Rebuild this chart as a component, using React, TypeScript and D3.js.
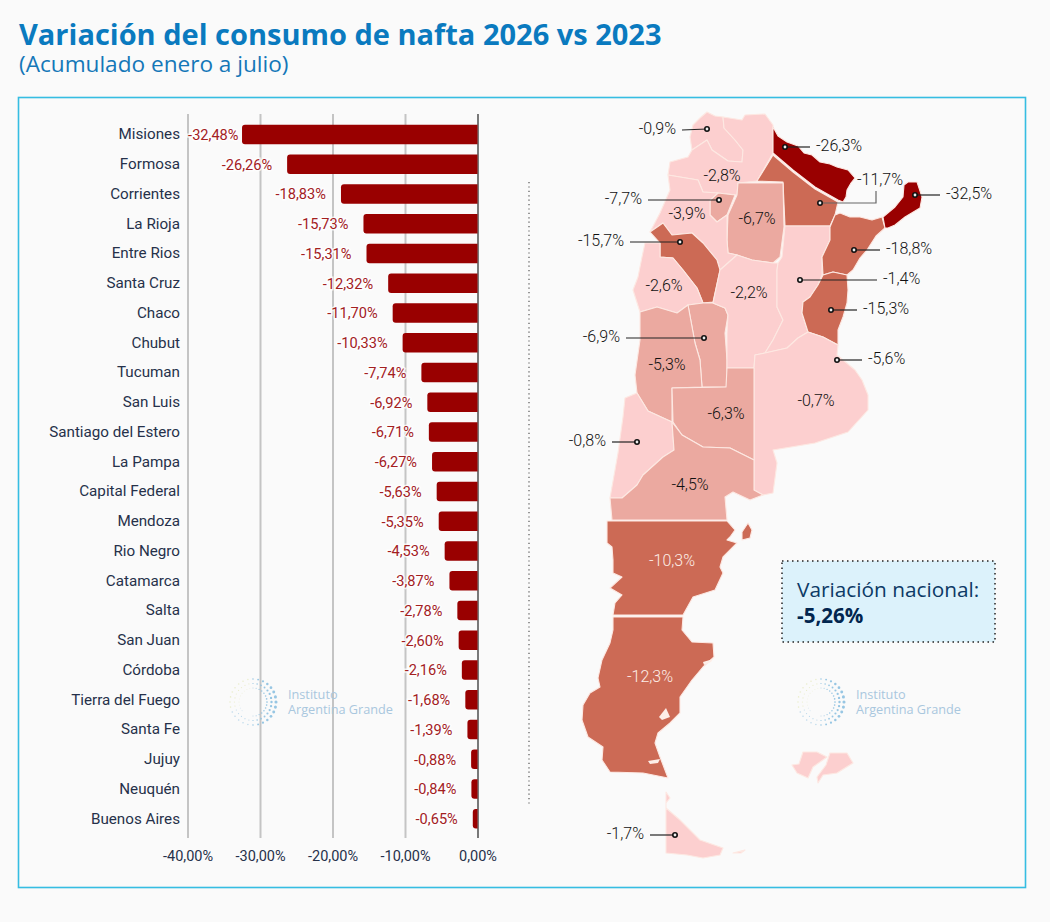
import React, { useRef, useEffect } from 'react';
import * as d3 from 'd3';

const provinces = ['Misiones', 'Formosa', 'Corrientes', 'La Rioja', 'Entre Rios', 'Santa Cruz', 'Chaco', 'Chubut', 'Tucuman', 'San Luis', 'Santiago del Estero', 'La Pampa', 'Capital Federal', 'Mendoza', 'Rio Negro', 'Catamarca', 'Salta', 'San Juan', 'Córdoba', 'Tierra del Fuego', 'Santa Fe', 'Jujuy', 'Neuquén', 'Buenos Aires'];
const variation = [-32.48, -26.26, -18.83, -15.73, -15.31, -12.32, -11.7, -10.33, -7.74, -6.92, -6.71, -6.27, -5.63, -5.35, -4.53, -3.87, -2.78, -2.6, -2.16, -1.68, -1.39, -0.88, -0.84, -0.65];
const xTicks = [-40, -30, -20, -10, 0];

// province outlines, traced by hand in map units
const outlines: [string, number, number[][][]][] = [
  ['Jujuy', 0.9, [[[693, 125], [700, 118], [707, 112], [715, 116], [723, 117], [724, 128], [735, 140], [743, 150], [742, 162], [728, 161], [712, 150], [707, 140], [692, 150], [690, 137]]]],
  ['Salta', 2.8, [[[723, 117], [742, 120], [745, 115], [765, 114], [773, 125], [773, 153], [757, 181], [738, 183], [737, 195], [718, 193], [703, 192], [698, 180], [668, 175], [670, 162], [688, 157], [692, 150], [707, 140], [712, 150], [728, 161], [742, 162], [743, 150], [735, 140], [724, 128]]]],
  ['Formosa', 26.3, [[[773, 127], [778, 136], [787, 142], [798, 146], [804, 153], [812, 155], [820, 162], [830, 164], [837, 167], [848, 170], [855, 178], [851, 183], [847, 190], [846, 197], [843, 202], [838, 200], [815, 187], [793, 170], [773, 153]]]],
  ['Chaco', 11.7, [[[757, 181], [773, 155], [793, 172], [815, 189], [838, 202], [835, 215], [830, 226], [785, 226], [783, 182]]]],
  ['Santiago del Estero', 6.7, [[[738, 183], [783, 183], [784, 227], [780, 257], [773, 263], [752, 260], [737, 255], [728, 253], [727, 240], [728, 215], [737, 195]]]],
  ['Tucuman', 7.7, [[[710, 200], [718, 193], [735, 195], [727, 215], [717, 222], [710, 215]]]],
  ['Catamarca', 3.9, [[[668, 175], [698, 180], [703, 192], [718, 193], [710, 200], [710, 215], [717, 222], [727, 215], [727, 240], [728, 253], [737, 255], [720, 270], [717, 260], [703, 243], [692, 233], [672, 235], [663, 223], [650, 232], [660, 213], [670, 190]]]],
  ['La Rioja', 15.7, [[[650, 232], [663, 223], [672, 235], [692, 233], [703, 243], [717, 260], [720, 270], [713, 302], [703, 303], [697, 288], [683, 270], [673, 258], [660, 257], [660, 243]]]],
  ['San Juan', 2.6, [[[645, 243], [660, 243], [660, 257], [673, 258], [683, 270], [697, 288], [703, 303], [688, 305], [677, 313], [657, 307], [640, 312], [633, 290], [638, 277], [642, 257]]]],
  ['San Luis', 6.9, [[[688, 305], [703, 303], [713, 303], [725, 308], [728, 315], [725, 333], [727, 360], [727, 387], [702, 387], [700, 360], [695, 343]]]],
  ['Mendoza', 5.3, [[[640, 312], [657, 307], [677, 313], [688, 305], [695, 343], [700, 360], [702, 387], [672, 388], [672, 422], [648, 411], [637, 393], [635, 375], [640, 340]]]],
  ['Córdoba', 2.2, [[[737, 255], [752, 260], [773, 263], [778, 263], [777, 270], [777, 307], [783, 320], [773, 340], [765, 353], [755, 355], [754, 368], [727, 368], [727, 333], [728, 315], [725, 308], [713, 303], [720, 270]]]],
  ['Santa Fe', 1.4, [[[785, 226], [830, 226], [830, 240], [822, 257], [822, 275], [818, 285], [810, 297], [803, 302], [802, 313], [808, 332], [798, 338], [787, 348], [765, 353], [773, 340], [783, 320], [777, 307], [777, 270], [778, 263], [782, 257]]]],
  ['Corrientes', 18.8, [[[840, 213], [850, 217], [860, 217], [872, 220], [882, 217], [885, 228], [876, 236], [867, 250], [860, 258], [853, 270], [847, 275], [833, 272], [823, 275], [822, 257], [830, 240], [830, 227], [835, 215]]]],
  ['Misiones', 32.5, [[[885, 228], [883, 217], [895, 207], [903, 197], [904, 185], [908, 182], [917, 182], [922, 197], [920, 208], [905, 217], [895, 225], [888, 228]]]],
  ['Entre Rios', 15.3, [[[823, 275], [833, 272], [847, 275], [848, 290], [847, 303], [843, 317], [838, 330], [838, 345], [823, 337], [808, 332], [802, 313], [803, 302], [810, 297], [818, 285]]]],
  ['Buenos Aires', 0.7, [[[755, 355], [765, 353], [787, 348], [798, 338], [808, 332], [823, 337], [838, 345], [837, 355], [855, 370], [862, 380], [868, 395], [868, 410], [848, 432], [815, 443], [785, 448], [773, 450], [777, 463], [773, 493], [763, 495], [754, 490], [754, 368]]]],
  ['La Pampa', 6.3, [[[672, 388], [726, 387], [727, 368], [754, 368], [754, 460], [730, 448], [703, 447], [682, 435], [673, 422]]]],
  ['Neuquén', 0.8, [[[637, 393], [648, 411], [672, 422], [674, 450], [663, 457], [643, 475], [637, 485], [622, 498], [610, 498], [615, 470], [618, 453], [623, 417], [625, 398]]]],
  ['Rio Negro', 4.5, [[[674, 450], [672, 422], [682, 435], [703, 447], [730, 448], [754, 460], [754, 490], [763, 495], [750, 500], [733, 492], [725, 497], [727, 520], [612, 520], [610, 498], [622, 498], [637, 485], [643, 475], [663, 457]]]],
  ['Chubut', 10.3, [[[607, 521], [727, 521], [735, 530], [730, 537], [727, 540], [737, 543], [723, 557], [720, 567], [723, 573], [715, 590], [693, 597], [683, 615], [613, 615], [615, 603], [622, 595], [610, 588], [622, 577], [613, 573], [613, 560], [612, 547], [607, 543]], [[742, 532], [748, 523], [752, 530], [750, 538], [742, 540]]]],
  ['Santa Cruz', 12.3, [[[613, 617], [683, 617], [682, 630], [692, 642], [713, 643], [714, 657], [703, 667], [692, 680], [680, 697], [680, 713], [670, 723], [658, 733], [655, 743], [660, 757], [668, 778], [643, 773], [610, 772], [602, 760], [603, 747], [588, 737], [582, 720], [583, 705], [590, 693], [600, 687], [598, 678], [602, 660], [610, 643], [613, 630]]]],
  ['Tierra del Fuego', 1.7, [[[666, 792], [670, 798], [666, 803], [666, 808], [680, 820], [700, 840], [723, 848], [720, 855], [703, 858], [687, 855], [666, 853]], [[733, 853], [745, 850], [741, 853]], [[792, 765], [799, 764], [803, 752], [817, 752], [827, 757], [813, 767], [808, 778], [797, 773]], [[830, 753], [847, 753], [853, 763], [837, 773], [823, 775], [818, 783], [817, 777], [826, 765]]]],
];

// lakes and inlets in Santa Cruz
const lakes = [
  [[703, 662], [713, 659], [711, 662], [704, 665]],
  [[659, 717], [666, 708], [670, 717], [662, 720]],
  [[648, 761], [660, 759], [658, 763], [650, 764]],
];

// label, dot, line end, elbow
const callouts: [string, number[], number[], number[] | null, string][] = [
  ['-0,9%', [707, 129], [682, 130], null, 'end'],
  ['-26,3%', [785, 147], [810, 147], null, 'start'],
  ['-11,7%', [820, 203], [876, 191], [876, 203], 'middle'],
  ['-32,5%', [915, 195], [940, 195], null, 'start'],
  ['-7,7%', [719, 200], [648, 200], null, 'end'],
  ['-15,7%', [680, 242], [630, 242], null, 'end'],
  ['-18,8%', [854, 250], [880, 250], null, 'start'],
  ['-1,4%', [800, 280], [877, 280], null, 'start'],
  ['-15,3%', [831, 310], [857, 310], null, 'start'],
  ['-6,9%', [704, 338], [626, 338], null, 'end'],
  ['-5,6%', [837, 360], [862, 360], null, 'start'],
  ['-0,8%', [637, 442], [612, 442], null, 'end'],
  ['-1,7%', [675, 835], [650, 835], null, 'end'],
];

const inlineLabels: [string, number[], string][] = [
  ['-2,8%', [722, 176], '#111'],
  ['-3,9%', [687, 214], '#111'],
  ['-6,7%', [757, 219], '#111'],
  ['-2,6%', [664, 286], '#111'],
  ['-2,2%', [749, 293], '#111'],
  ['-5,3%', [667, 365], '#111'],
  ['-6,3%', [726, 414], '#111'],
  ['-0,7%', [816, 401], '#111'],
  ['-4,5%', [690, 485], '#111'],
  ['-10,3%', [672, 561], '#fdeee8'],
  ['-12,3%', [650, 677], '#fdeee8'],
];

const fmt = (v: number) => d3.format('.2f')(v).replace('.', ',').replace('−', '-') + '%';

const App: React.FC = () => {
  const svgRef = useRef<SVGSVGElement | null>(null);

  useEffect(() => {
    if (!svgRef.current) return;
    const svg = d3.select(svgRef.current);
    svg.selectAll('*').remove();

    const x = d3.scaleLinear().domain([-40, 0]).range([187.5, 477.5]);
    const y = d3.scaleBand().domain(provinces).range([119.6, 833.6]).paddingInner(0.34).paddingOuter(0.17);

    svg.append('rect').attr('width', 1050).attr('height', 922).attr('fill', '#fafafa');

    svg.append('text').attr('x', 19).attr('y', 45)
      .attr('font-family', '"Open Sans"').attr('font-weight', 700).attr('font-size', 29)
      .attr('fill', '#0a7abf').text('Variación del consumo de nafta 2026 vs 2023');
    svg.append('text').attr('x', 19).attr('y', 72)
      .attr('font-family', '"Open Sans"').attr('font-size', 22.6)
      .attr('fill', '#1477b8').text('(Acumulado enero a julio)');

    svg.append('rect').attr('x', 18.5).attr('y', 97.5).attr('width', 1007).attr('height', 790)
      .attr('fill', '#fafafa').attr('stroke', '#35bde2').attr('stroke-width', 1.6);

    // x axis with gridlines
    const xAxis = svg.append('g').attr('transform', 'translate(0,838)')
      .call(d3.axisBottom(x).tickValues(xTicks).tickSize(724).tickSizeOuter(0).tickFormat(d => fmt(+d)));
    xAxis.select('.domain').remove();
    xAxis.selectAll('line').attr('transform', 'translate(0,-724)').attr('stroke', (d: any) => d === 0 ? '#222' : '#c4c4c4').attr('stroke-width', (d: any) => d === 0 ? 1.2 : 2);
    xAxis.selectAll('text').attr('transform', 'translate(0,-714)').attr('font-family', 'Roboto').attr('font-size', 14.5).attr('fill', '#26314a');

    // y axis
    const yAxis = svg.append('g').attr('transform', 'translate(187.5,0)')
      .call(d3.axisLeft(y).tickSize(0).tickPadding(7.5));
    yAxis.select('.domain').remove();
    yAxis.selectAll('text').attr('font-family', 'Roboto').attr('font-size', 15.2).attr('fill', '#26314a');

    svg.append('clipPath').attr('id', 'bars-clip').append('rect')
      .attr('x', x(-40)).attr('y', 100).attr('width', x(0) - x(-40)).attr('height', 760);

    svg.append('g').attr('clip-path', 'url(#bars-clip)').selectAll('rect')
      .data(variation).enter().append('rect')
      .attr('x', d => x(d))
      .attr('y', (_, i) => y(provinces[i]) || 0)
      .attr('width', d => x(0) - x(d) + 5)
      .attr('height', y.bandwidth())
      .attr('rx', 3)
      .attr('fill', '#990000');

    svg.append('g').selectAll('text')
      .data(variation).enter().append('text')
      .attr('x', d => Math.max(x(d) - 15, x(-40) + 51))
      .attr('y', (_, i) => (y(provinces[i]) || 0) + y.bandwidth() / 2 + 5.5)
      .attr('text-anchor', 'end')
      .attr('font-family', 'Roboto').attr('font-size', 14.6)
      .attr('fill', '#a3201f')
      .attr('stroke', '#fff').attr('stroke-width', 3).attr('stroke-opacity', 0.75).attr('paint-order', 'stroke')
      .text(d => fmt(d));

    svg.append('line').attr('x1', 529).attr('x2', 529).attr('y1', 182).attr('y2', 805)
      .attr('stroke', '#555').attr('stroke-width', 1.2).attr('stroke-dasharray', '1.2 3.2');

    // map
    const features = {
      type: 'FeatureCollection',
      features: outlines.map(([name, drop, rings]) => ({
        type: 'Feature',
        properties: { name, drop },
        geometry: { type: 'MultiPolygon', coordinates: rings.map(r => [[...r, r[0]]]) },
      })),
    } as any;
    const projection = d3.geoIdentity().fitExtent([[582, 112], [922, 858]], features);
    const geoPath = d3.geoPath(projection);
    const shade = (drop: number) => drop >= 20 ? '#990000' : drop >= 10 ? '#cc6a55' : drop >= 4 ? '#eba9a0' : '#fccfcf';

    svg.append('g').selectAll('path')
      .data(features.features).enter().append('path')
      .attr('d', geoPath as any)
      .attr('fill', (d: any) => shade(d.properties.drop))
      .attr('stroke', '#fde8e2').attr('stroke-width', 1.1).attr('stroke-linejoin', 'round');

    svg.append('g').selectAll('path')
      .data(lakes).enter().append('path')
      .attr('d', d => geoPath({ type: 'Polygon', coordinates: [[...d, d[0]]] } as any))
      .attr('fill', '#fdeee8');

    const project = (p: number[]) => projection(p as [number, number]) as [number, number];

    const labelFont = (t: any) => t
      .attr('font-family', 'Roboto').attr('font-weight', 300).attr('font-size', 16);

    svg.append('g').selectAll('text')
      .data(inlineLabels).enter().append('text')
      .attr('x', d => project(d[1])[0])
      .attr('y', d => project(d[1])[1] + 5)
      .attr('text-anchor', 'middle').attr('fill', d => d[2])
      .call(labelFont).text(d => d[0]);

    const call = svg.append('g').selectAll('g').data(callouts).enter().append('g');
    call.append('path')
      .attr('d', d => d3.line()([d[1], ...(d[3] ? [d[3]] : []), d[2]].map(project)))
      .attr('fill', 'none').attr('stroke', (d: any) => d[3] ? '#666' : '#222').attr('stroke-width', 1.2);
    call.append('circle')
      .attr('cx', d => project(d[1])[0]).attr('cy', d => project(d[1])[1]).attr('r', 2.2)
      .attr('fill', '#eee').attr('stroke', '#111').attr('stroke-width', 1.6);
    call.append('text')
      .attr('x', d => project(d[2])[0] + (d[4] === 'start' ? 6 : d[4] === 'end' ? -6 : 4))
      .attr('y', d => project(d[2])[1] + (d[4] === 'middle' ? -6 : 4))
      .attr('text-anchor', d => d[4]).attr('fill', '#111')
      .call(labelFont).text(d => d[0]);

    // national box
    svg.append('rect').attr('x', 782).attr('y', 561).attr('width', 213).attr('height', 81)
      .attr('fill', '#dcf2fb').attr('stroke', '#222').attr('stroke-width', 1.5).attr('stroke-dasharray', '1.5 3.5');
    svg.append('text').attr('x', 797).attr('y', 597)
      .attr('font-family', '"Open Sans"').attr('font-size', 20.8).attr('fill', '#0d3a66').text('Variación nacional:');
    svg.append('text').attr('x', 797).attr('y', 623)
      .attr('font-family', '"Open Sans"').attr('font-weight', 700).attr('font-size', 20.6).attr('fill', '#02264f').text('-5,26%');

    // logo, drawn twice
    [[253, 702], [821, 702]].forEach(([cx, cy]) => {
      const logo = svg.append('g').attr('transform', `translate(${cx},${cy})`);
      [14, 18.5, 23].forEach((radius, ring) => {
        d3.range(28).forEach(i => {
          const a = (i / 28) * 2 * Math.PI - Math.PI / 2;
          const sweep = Math.sin(a);
          const r = (0.6 + ring * 0.25) * (0.7 + Math.max(Math.cos(a), 0) * 0.7);
          if (ring === 0 && i > 14 && i < 18) return;
          logo.append('circle')
            .attr('cx', Math.cos(a) * radius).attr('cy', sweep * radius).attr('r', r)
            .attr('fill', Math.cos(a) < -0.2 && sweep < 0.4 ? '#dfe3a8' : '#8cc0e0')
            .attr('opacity', Math.cos(a) > 0 ? 0.9 : 0.55);
        });
      });
      logo.append('text').attr('x', 35).attr('y', -3).attr('fill', '#a9c7de')
        .attr('font-family', '"Open Sans"').attr('font-size', 12.7).text('Instituto');
      logo.append('text').attr('x', 35).attr('y', 12).attr('fill', '#a9c7de')
        .attr('font-family', '"Open Sans"').attr('font-size', 12.7).text('Argentina Grande');
    });
  }, []);

  return <svg ref={svgRef} width={1050} height={922} style={{ position: 'absolute', left: 0, top: 0, display: 'block' }}></svg>;
};

export default App;
